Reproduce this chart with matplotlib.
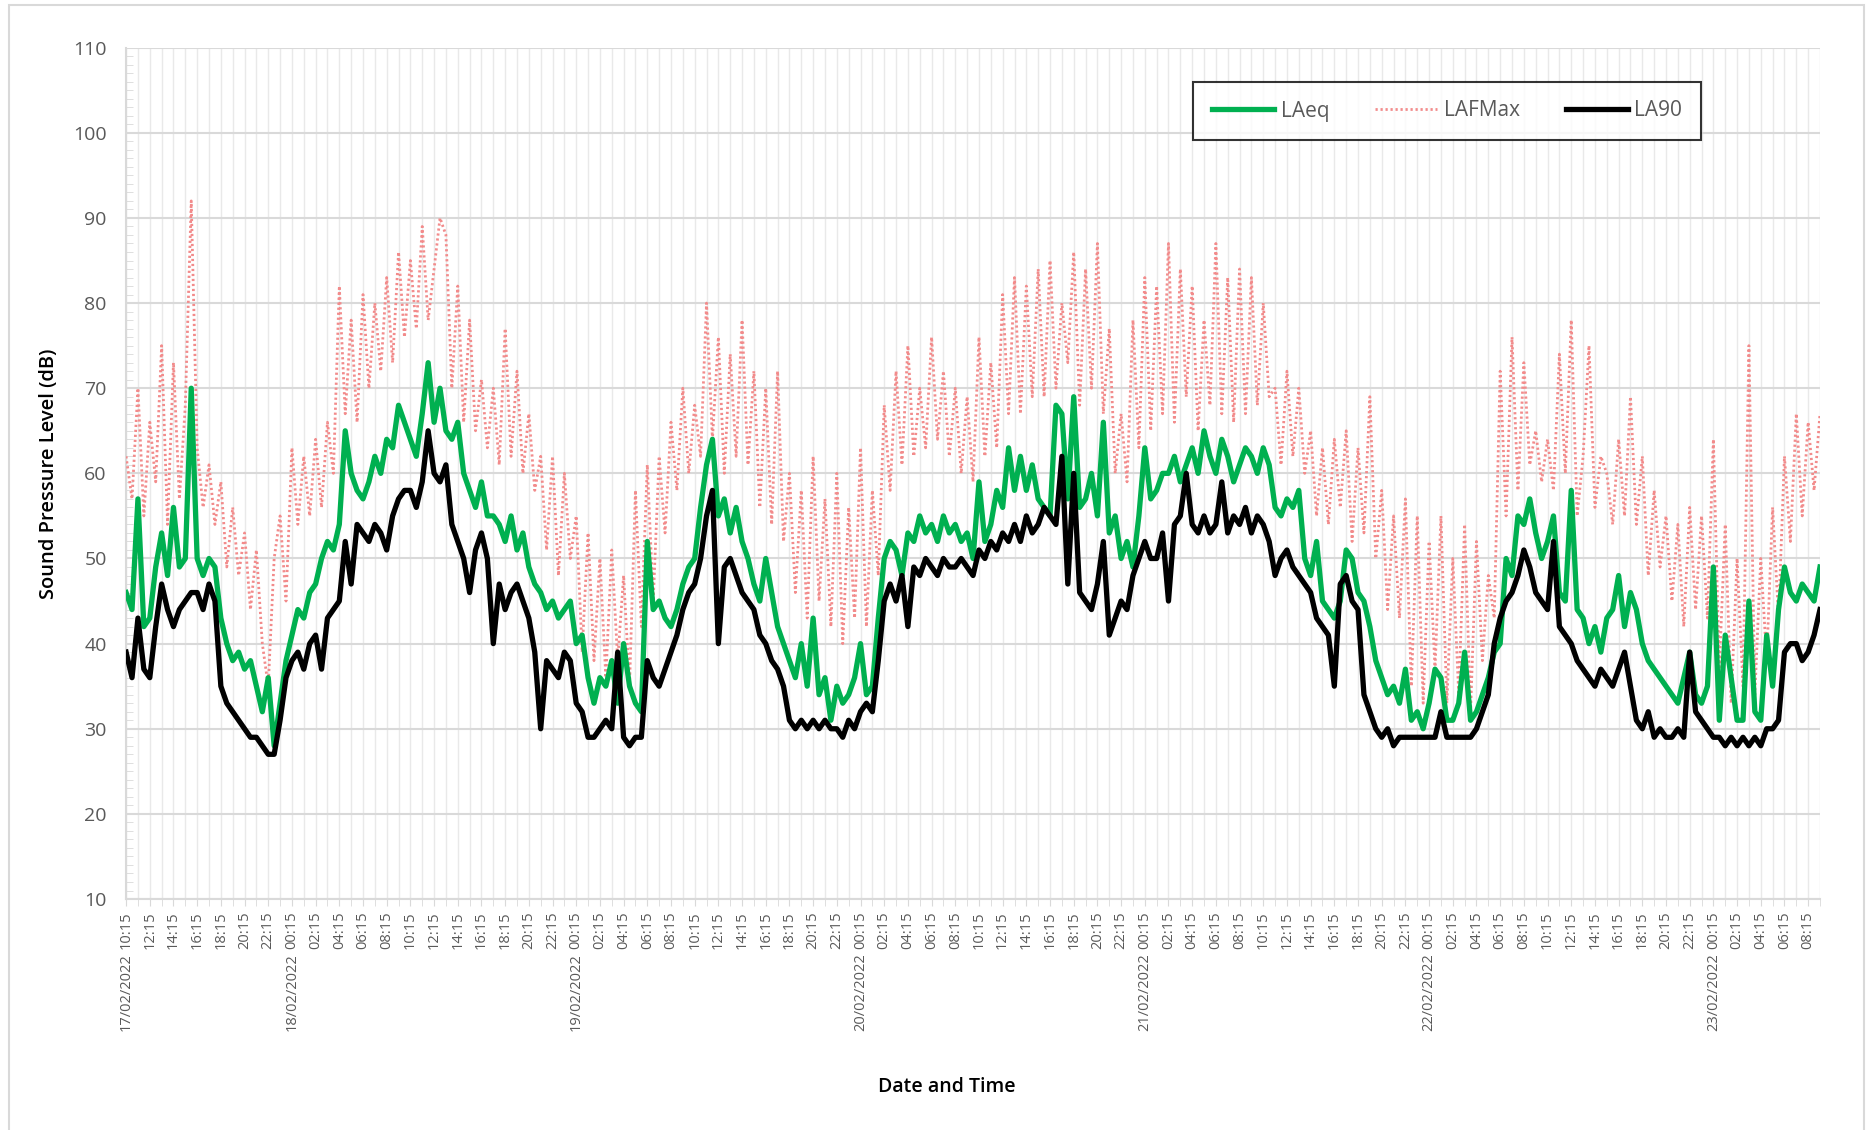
import pandas as pd
import matplotlib
matplotlib.use("Agg")
import matplotlib.pyplot as plt
from matplotlib.ticker import MultipleLocator
from matplotlib.patches import Rectangle
from matplotlib.transforms import blended_transform_factory

plt.rcParams['font.family'] = ['Open Sans', 'DejaVu Sans']

# half-hourly readings (dB), starting 17/02/2022 10:15
start = "2022-02-17 10:15"

laeq = [
    46, 44, 57, 42, 43, 49, 53, 48, 56, 49, 50, 70, 50, 48, 50, 49,
    43, 40, 38, 39, 37, 38, 35, 32, 36, 28, 33, 38, 41, 44, 43, 46,
    47, 50, 52, 51, 54, 65, 60, 58, 57, 59, 62, 60, 64, 63, 68, 66,
    64, 62, 67, 73, 66, 70, 65, 64, 66, 60, 58, 56, 59, 55, 55, 54,
    52, 55, 51, 53, 49, 47, 46, 44, 45, 43, 44, 45, 40, 41, 36, 33,
    36, 35, 38, 33, 40, 35, 33, 32, 52, 44, 45, 43, 42, 44, 47, 49,
    50, 56, 61, 64, 55, 57, 53, 56, 52, 50, 47, 45, 50, 46, 42, 40,
    38, 36, 40, 35, 43, 34, 36, 31, 35, 33, 34, 36, 40, 34, 35, 43,
    50, 52, 51, 48, 53, 52, 55, 53, 54, 52, 55, 53, 54, 52, 53, 50,
    59, 52, 54, 58, 56, 63, 58, 62, 58, 61, 57, 56, 55, 68, 67, 57,
    69, 56, 57, 60, 55, 66, 53, 55, 50, 52, 49, 55, 63, 57, 58, 60,
    60, 62, 59, 61, 63, 60, 65, 62, 60, 64, 62, 59, 61, 63, 62, 60,
    63, 61, 56, 55, 57, 56, 58, 50, 48, 52, 45, 44, 43, 45, 51, 50,
    46, 45, 42, 38, 36, 34, 35, 33, 37, 31, 32, 30, 33, 37, 36, 31,
    31, 33, 39, 31, 32, 34, 36, 39, 40, 50, 48, 55, 54, 57, 53, 50,
    52, 55, 46, 45, 58, 44, 43, 40, 42, 39, 43, 44, 48, 42, 46, 44,
    40, 38, 37, 36, 35, 34, 33, 36, 39, 34, 33, 35, 49, 31, 41, 36,
    31, 31, 45, 32, 31, 41, 35, 44, 49, 46, 45, 47, 46, 45,
    49,
]

lafmax = [
    62, 57, 70, 55, 66, 59, 75, 54, 73, 57, 68, 92, 63, 56, 61, 54,
    59, 49, 56, 48, 53, 44, 51, 40, 35, 50, 55, 45, 63, 54, 62, 55,
    64, 56, 66, 60, 82, 67, 78, 66, 81, 70, 80, 72, 83, 73, 86, 76,
    85, 77, 89, 78, 84, 90, 88, 70, 82, 66, 78, 65, 71, 63, 70, 61,
    77, 62, 72, 60, 67, 58, 62, 51, 62, 48, 60, 50, 55, 39, 53, 38,
    50, 36, 51, 38, 48, 35, 58, 42, 61, 45, 62, 53, 66, 58, 70, 60,
    68, 62, 80, 64, 76, 60, 74, 62, 78, 61, 72, 56, 70, 54, 72, 52,
    60, 46, 58, 43, 62, 45, 57, 42, 60, 40, 56, 43, 63, 42, 58, 48,
    68, 58, 72, 61, 75, 62, 70, 63, 76, 64, 72, 62, 70, 60, 69, 59,
    76, 62, 73, 63, 81, 67, 83, 67, 82, 69, 84, 69, 85, 70, 80, 73,
    86, 68, 84, 70, 87, 67, 77, 60, 67, 59, 78, 63, 83, 65, 82, 67,
    87, 66, 84, 69, 82, 65, 78, 68, 87, 67, 83, 66, 84, 67, 83, 68,
    80, 69, 70, 61, 72, 62, 70, 60, 65, 55, 63, 54, 64, 56, 65, 52,
    63, 53, 69, 50, 58, 44, 55, 43, 57, 35, 55, 33, 52, 37, 55, 33,
    50, 34, 54, 32, 52, 38, 48, 43, 72, 55, 76, 58, 73, 61, 65, 59,
    64, 58, 74, 60, 78, 55, 62, 75, 56, 62, 60, 54, 64, 55, 69, 54,
    62, 48, 58, 49, 55, 45, 54, 42, 56, 44, 55, 43, 64, 37, 54, 33,
    50, 35, 75, 34, 50, 38, 56, 43, 62, 52, 67, 55, 66, 58,
    67,
]

la90 = [
    39, 36, 43, 37, 36, 42, 47, 44, 42, 44, 45, 46, 46, 44, 47, 45,
    35, 33, 32, 31, 30, 29, 29, 28, 27, 27, 31, 36, 38, 39, 37, 40,
    41, 37, 43, 44, 45, 52, 47, 54, 53, 52, 54, 53, 51, 55, 57, 58,
    58, 56, 59, 65, 60, 59, 61, 54, 52, 50, 46, 51, 53, 50, 40, 47,
    44, 46, 47, 45, 43, 39, 30, 38, 37, 36, 39, 38, 33, 32, 29, 29,
    30, 31, 30, 39, 29, 28, 29, 29, 38, 36, 35, 37, 39, 41, 44, 46,
    47, 50, 55, 58, 40, 49, 50, 48, 46, 45, 44, 41, 40, 38, 37, 35,
    31, 30, 31, 30, 31, 30, 31, 30, 30, 29, 31, 30, 32, 33, 32, 38,
    45, 47, 45, 48, 42, 49, 48, 50, 49, 48, 50, 49, 49, 50, 49, 48,
    51, 50, 52, 51, 53, 52, 54, 52, 55, 53, 54, 56, 55, 54, 62, 47,
    60, 46, 45, 44, 47, 52, 41, 43, 45, 44, 48, 50, 52, 50, 50, 53,
    45, 54, 55, 60, 54, 53, 55, 53, 54, 59, 53, 55, 54, 56, 53, 55,
    54, 52, 48, 50, 51, 49, 48, 47, 46, 43, 42, 41, 35, 47, 48, 45,
    44, 34, 32, 30, 29, 30, 28, 29, 29, 29, 29, 29, 29, 29, 32, 29,
    29, 29, 29, 29, 30, 32, 34, 40, 43, 45, 46, 48, 51, 49, 46, 45,
    44, 52, 42, 41, 40, 38, 37, 36, 35, 37, 36, 35, 37, 39, 35, 31,
    30, 32, 29, 30, 29, 29, 30, 29, 39, 32, 31, 30, 29, 29, 28, 29,
    28, 29, 28, 29, 28, 30, 30, 31, 39, 40, 40, 38, 39, 41,
    44,
]

times = pd.date_range(start, periods=len(laeq), freq="30min")
hours = ((times - times[0]) / pd.Timedelta(hours=1)).to_numpy()

fig = plt.figure(figsize=(18.68, 11.3), dpi=100)
ax = fig.add_axes([0.0675, 0.2044, 0.9068, 0.7534])

# chart border
fig.add_artist(Rectangle((0.005, -0.01), 0.993, 1.0056, transform=fig.transFigure,
                         fill=False, edgecolor='#d9d9d9', lw=1.5))

ax.plot(hours, lafmax, color='#f28b8b', lw=2.0, linestyle=(0, (0.8, 1.0)), label='LAFMax', zorder=3)
ax.plot(hours, laeq, color='#00b050', lw=3.8, label='LAeq', zorder=4)
ax.plot(hours, la90, color='black', lw=3.8, label='LA90', zorder=5)

ax.set_xlim(0, hours[-1])
ax.set_ylim(10, 110)
ax.yaxis.set_major_locator(MultipleLocator(10))
ax.yaxis.set_minor_locator(MultipleLocator(1))

# x ticks every 2 hours, gridlines every hour
ax.set_xticks(hours[::4])
ax.set_xticklabels([t.strftime('%H:%M') for t in times[::4]], rotation=90)
ax.xaxis.set_minor_locator(MultipleLocator(1))

ax.grid(which='major', axis='y', color='#d9d9d9', lw=1.5, zorder=0)
ax.grid(which='both', axis='x', color='#e9e9e9', lw=1.0, zorder=0)

for s in ['top', 'right']:
    ax.spines[s].set_visible(False)
for s in ['left', 'bottom']:
    ax.spines[s].set_color('#d9d9d9')
    ax.spines[s].set_linewidth(1.5)

ax.tick_params(axis='y', which='major', length=0, labelsize=14, labelcolor='#595959', pad=14)
ax.tick_params(axis='y', which='minor', direction='in', length=5, color='#d9d9d9')
ax.tick_params(axis='x', which='both', direction='out', length=5, color='#d9d9d9',
               labelsize=10.5, labelcolor='#595959', pad=4)

# date labels under the first time of each day
trans = blended_transform_factory(ax.transData, ax.transAxes)
for i, t in enumerate(times[::4]):
    if i == 0 or t.strftime('%H:%M') == '00:15':
        ax.text(hours[i * 4], -0.064, t.strftime('%d/%m/%Y'), transform=trans, rotation=90,
                ha='center', va='top', fontsize=10.5, color='#595959')

ax.set_ylabel('Sound Pressure Level (dB)', fontsize=14.5, fontweight='semibold', color='black', labelpad=10)
fig.text(947 / 1868, 1 - 1087 / 1130, 'Date and Time', ha='center', va='center',
         fontsize=14, fontweight='semibold', color='black')

handles, labels = ax.get_legend_handles_labels()
order = [1, 0, 2]
leg = ax.legend([handles[i] for i in order], [labels[i] for i in order],
                loc='center', bbox_to_anchor=(1447 / 1868, 1 - 111 / 1130),
                bbox_transform=fig.transFigure, ncol=3, fontsize=15, frameon=True,
                fancybox=False, edgecolor='black', handlelength=3.0, columnspacing=2.2,
                borderpad=0.9, handletextpad=0.3, labelcolor='#595959')
leg.get_frame().set_linewidth(1.5)

fig.savefig('out.png', dpi=100)
